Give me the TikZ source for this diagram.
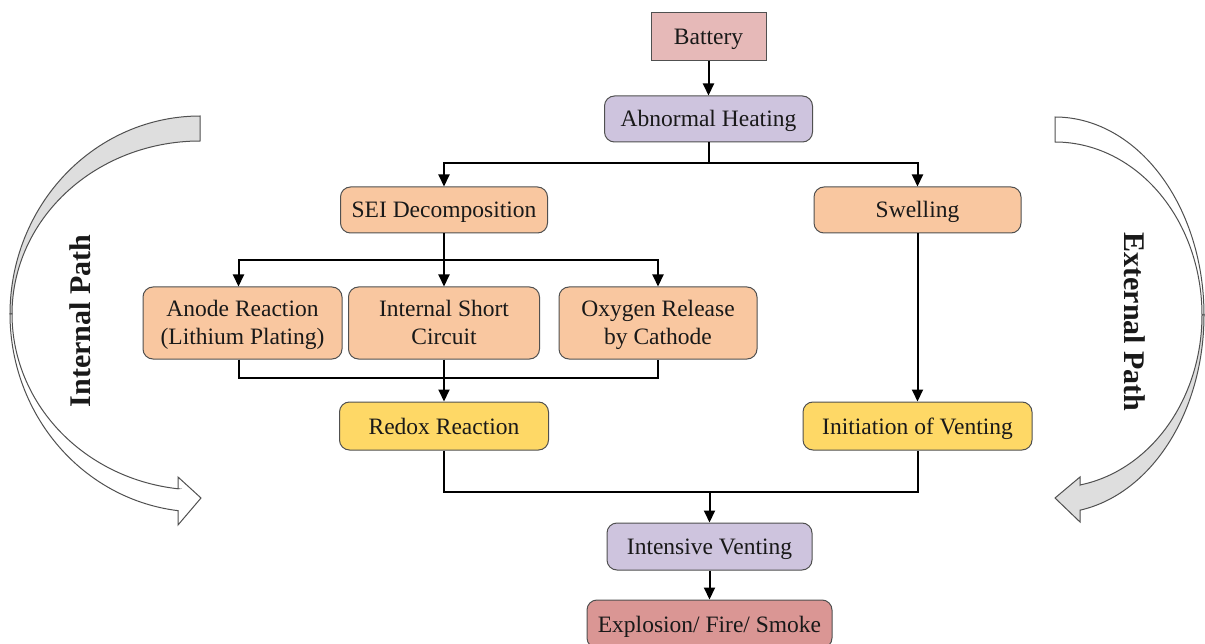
\documentclass[tikz,border=0pt]{standalone}
\usepackage{fontspec}
\setmainfont{Liberation Serif}
\usetikzlibrary{arrows.meta}
\definecolor{cbat}{HTML}{E6B9B8}
\definecolor{clav}{HTML}{CEC4DE}
\definecolor{corg}{HTML}{F9C7A0}
\definecolor{cyel}{HTML}{FED866}
\definecolor{cexp}{HTML}{DA9694}
\definecolor{cbord}{HTML}{505050}
\definecolor{cband}{HTML}{DEDEDE}
\definecolor{cbandline}{HTML}{505050}
\newcommand{\TwoL}[2]{\raisebox{-8.3pt}[30pt][30pt]{\begin{tabular}{@{}c@{}}#1\\#2\end{tabular}}}
\tikzset{
  box/.style={draw=cbord, line width=1pt, rounded corners=10pt, inner sep=0pt,
    font=\fontsize{23.5}{28}\selectfont, text=black!90,
    execute at begin node={\rule{0pt}{22pt}},
    execute at end node={\rule[-6pt]{0pt}{0pt}}},
  twoline/.style={execute at begin node={}, execute at end node={}},
  conn/.style={line width=2pt, draw=black},
  arr/.style={conn, -{Triangle[length=12pt,width=11pt]}},
  band/.style={draw=cbandline, line width=1pt, line join=miter},
  pathlabel/.style={font=\fontsize{30}{34}\selectfont\bfseries, text=black!90}
}
\begin{document}
\begin{tikzpicture}[x=1pt,y=-1pt]
\useasboundingbox (0,0) rectangle (1205,644);
\clip (0,0) rectangle (1205,644);
\fill[white] (0,0) rectangle (1205,644);

% nodes
\node[box, rounded corners=0pt, fill=cbat, minimum width=115pt, minimum height=48pt] (battery) at (708.5,37) {Battery};
\node[box, fill=clav, minimum width=208pt, minimum height=46pt] (ah) at (708.5,119) {Abnormal Heating};
\node[box, fill=corg, minimum width=207pt, minimum height=46pt] (sei) at (444,210) {SEI Decomposition};
\node[box, fill=corg, minimum width=207pt, minimum height=46pt] (swell) at (917.5,210) {Swelling};
\node[box, twoline, fill=corg, minimum width=199pt, minimum height=72pt] (anode) at (242.5,323) {\TwoL{Anode Reaction}{(Lithium Plating)}};
\node[box, twoline, fill=corg, minimum width=191pt, minimum height=72pt] (isc) at (444,323) {\TwoL{Internal Short}{Circuit}};
\node[box, twoline, fill=corg, minimum width=198pt, minimum height=72pt] (oxy) at (658,323) {\TwoL{Oxygen Release}{by Cathode}};
\node[box, fill=cyel, minimum width=209pt, minimum height=48pt] (redox) at (444,426) {Redox Reaction};
\node[box, fill=cyel, minimum width=229pt, minimum height=48pt] (init) at (917.5,426) {Initiation of Venting};
\node[box, fill=clav, minimum width=205pt, minimum height=47pt] (iv) at (709.5,546.5) {Intensive Venting};
\node[box, fill=cexp, minimum width=245pt, minimum height=48pt] (expl) at (709.5,624) {Explosion/ Fire/ Smoke};

% junction points
\coordinate (j1) at (708.5,163);
\coordinate (j2) at (444,260);
\coordinate (j3) at (444,378);
\coordinate (j4) at (709.5,492);

% connectors
\draw[arr] (battery.south) -- (ah.north);
\draw[conn] (ah.south) -- (j1);
\draw[arr] (j1) -| (sei.north);
\draw[arr] (j1) -| (swell.north);
\draw[conn] (sei.south) -- (j2);
\draw[arr] (j2) -| ([xshift=-4pt]anode.north);
\draw[arr] (j2) -- (isc.north);
\draw[arr] (j2) -| (oxy.north);
\draw[conn] ([xshift=-4pt]anode.south) |- (j3) -| (oxy.south);
\draw[conn] (isc.south) -- (j3);
\draw[arr] (j3) -- (redox.north);
\draw[arr] (swell.south) -- (init.north);
\draw[conn] (redox.south) |- (j4) -| (init.south);
\draw[arr] (j4) -- (iv.north);
\draw[arr] (iv.south) -- (expl.north);

% left curved arrow (Internal Path)
\filldraw[band, fill=cband]
  plot[domain=90:180, samples=60] ({200+190*cos(\x)},{314-198*sin(\x)})
  -- plot[domain=180:90, samples=60] ({200+188*cos(\x)},{314-173*sin(\x)})
  -- cycle;
\filldraw[band, fill=white]
  plot[domain=180:263.35, samples=60] ({200+190*cos(\x)},{314-198*sin(\x)})
  -- (178,525) -- (201,498) -- (178,477) -- (178,488.8)
  -- plot[domain=263.3:180, samples=60] ({200+188*cos(\x)},{314-176*sin(\x)})
  -- cycle;
\node[pathlabel, rotate=90] (ipath) at (80,321) {Internal Path};

% right curved arrow (External Path)
\filldraw[band, fill=white]
  plot[domain=90:0, samples=60] ({1055+149*cos(\x)},{315-198*sin(\x)})
  -- plot[domain=0:90, samples=60] ({1055+147*cos(\x)},{315-173*sin(\x)})
  -- cycle;
\filldraw[band, fill=cband]
  plot[domain=0:-80.3, samples=60] ({1055+149*cos(\x)},{315-198*sin(\x)})
  -- (1080,522) -- (1055,498) -- (1080,477) -- (1080,485)
  -- plot[domain=-80.2:0, samples=60] ({1055+147*cos(\x)},{315-172.5*sin(\x)})
  -- cycle;
\node[pathlabel, rotate=-90] (epath) at (1135,322) {External Path};
\end{tikzpicture}
\end{document}
